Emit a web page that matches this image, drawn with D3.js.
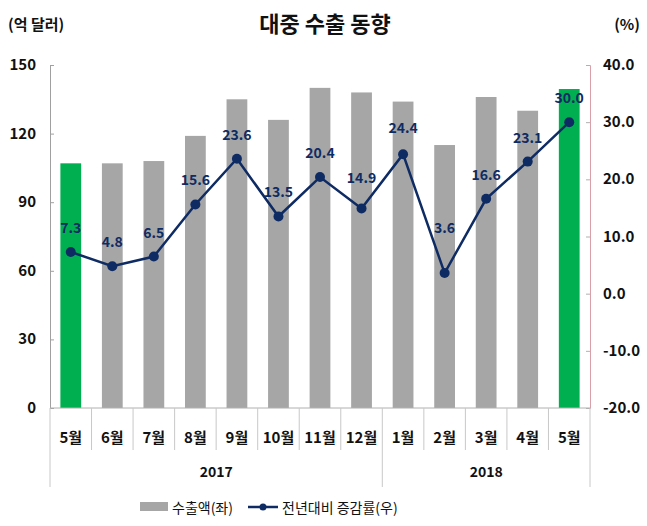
<!DOCTYPE html>
<html><head><meta charset="utf-8">
<script src="https://cdn.jsdelivr.net/npm/d3@7"></script>
<style>body{margin:0;background:#fff}svg{font-family:"Noto Sans CJK KR","Noto Sans",sans-serif}</style>
</head><body>
<svg id="c" width="647" height="526"></svg>
<script>
const months = ["5월","6월","7월","8월","9월","10월","11월","12월","1월","2월","3월","4월","5월"];
const years = [{label:"2017", from:0, to:8},{label:"2018", from:8, to:13}];
const exports = [107,107,108,119,135,126,140,138,134,115,136,130,139.5];
const growth = [7.3,4.8,6.5,15.6,23.6,13.5,20.4,14.9,24.4,3.6,16.6,23.1,30.0];
const highlight = [true,false,false,false,false,false,false,false,false,false,false,false,true];
const leftTicks = [0,30,60,90,120,150];
const rightTicks = [-20,-10,0,10,20,30,40];

const svg = d3.select("#c");
const L=50,R=590,T=65,B=408;
const x = d3.scaleBand().domain(d3.range(months.length)).range([L,R]).paddingInner(0.5).paddingOuter(0.25);
const xb = d3.scaleBand().domain(d3.range(months.length)).range([L,R]);
const yL = d3.scaleLinear().domain([0,150]).range([B,T]);
const yR = d3.scaleLinear().domain([-20,40]).range([B,T]);
const navy="#0e2b63";
// extra lift for a few data labels (layout only)
const labelLift = {7:6, 8:2, 9:21};

// bars
svg.selectAll("rect.bar").data(exports).enter().append("rect")
 .attr("x",(d,i)=>x(i)).attr("width",x.bandwidth())
 .attr("y",d=>yL(d)).attr("height",d=>B-yL(d))
 .attr("fill",(d,i)=>highlight[i]?"#00b050":"#a6a6a6");

// left axis
const gl = svg.append("g").attr("transform",`translate(${L},0)`)
 .call(d3.axisRight(yL).tickValues(leftTicks).tickSize(4).tickFormat(""));
gl.select(".domain").attr("stroke","#a0a0a0");
gl.selectAll(".tick line").attr("stroke","#a0a0a0");
svg.append("g").selectAll("text").data(leftTicks).enter().append("text")
 .attr("x",36).attr("y",d=>yL(d)+5).attr("text-anchor","end")
 .attr("font-size",15).attr("font-weight","bold").attr("fill","#111").text(d=>d);

// right axis
const gr = svg.append("g").attr("transform",`translate(${R},0)`)
 .call(d3.axisLeft(yR).tickValues(rightTicks).tickSize(4).tickFormat(""));
gr.select(".domain").attr("stroke","#d9a0a8");
gr.selectAll(".tick line").attr("stroke","#b0b0b0");
svg.append("g").selectAll("text").data(rightTicks).enter().append("text")
 .attr("x",603).attr("y",d=>yR(d)+5).attr("text-anchor","start")
 .attr("font-size",15).attr("font-weight","bold").attr("fill","#111").text(d=>d.toFixed(1));

// x axis
svg.append("line").attr("x1",L).attr("x2",R).attr("y1",B).attr("y2",B).attr("stroke","#b0b0b0");
const seps = d3.range(months.length+1);
svg.append("g").selectAll("line").data(seps).enter().append("line")
 .attr("x1",i=>i<months.length?xb(i):R).attr("x2",i=>i<months.length?xb(i):R)
 .attr("y1",B).attr("y2",i=>(i===0||i===8||i===13)?487:450)
 .attr("stroke","#c8c8c8");
svg.append("g").selectAll("text").data(months).enter().append("text")
 .attr("x",(d,i)=>xb(i)+xb.bandwidth()/2).attr("y",443).attr("text-anchor","middle")
 .attr("font-size",15).attr("font-weight","bold").attr("fill","#111").text(d=>d);
svg.append("g").selectAll("text").data(years).enter().append("text")
 .attr("x",d=>(xb(d.from)+(d.to<months.length?xb(d.to):R))/2).attr("y",477).attr("text-anchor","middle")
 .attr("font-size",14).attr("font-weight","bold").attr("fill","#111").text(d=>d.label);

// line
const cx = i=>x(i)+x.bandwidth()/2;
svg.append("path").datum(growth)
 .attr("d",d3.line().x((d,i)=>cx(i)).y(d=>yR(d)))
 .attr("fill","none").attr("stroke",navy).attr("stroke-width",2.5);
svg.append("g").selectAll("circle").data(growth).enter().append("circle")
 .attr("cx",(d,i)=>cx(i)).attr("cy",d=>yR(d)).attr("r",5).attr("fill",navy);
svg.append("g").selectAll("text").data(growth).enter().append("text")
 .attr("x",(d,i)=>cx(i)).attr("y",(d,i)=>yR(d)-19-(labelLift[i]||0)).attr("text-anchor","middle")
 .attr("font-size",14).attr("font-weight","bold").attr("fill",navy).text(d=>d.toFixed(1));

// titles
svg.append("text").attr("x",325).attr("y",32).attr("text-anchor","middle")
 .attr("font-size",22).attr("font-weight","bold").attr("fill","#111").text("대중 수출 동향");
svg.append("text").attr("x",8).attr("y",30).attr("font-size",15).attr("font-weight","bold").attr("fill","#111").text("(억 달러)");
svg.append("text").attr("x",640).attr("y",30).attr("text-anchor","end").attr("font-size",15).attr("font-weight","bold").attr("fill","#111").text("(%)");

// legend
svg.append("rect").attr("x",140).attr("y",502).attr("width",28).attr("height",9).attr("fill","#a6a6a6");
svg.append("text").attr("x",172).attr("y",513).attr("font-size",14).attr("fill","#111").text("수출액(좌)");
svg.append("line").attr("x1",248).attr("x2",278).attr("y1",507).attr("y2",507).attr("stroke",navy).attr("stroke-width",2.5);
svg.append("circle").attr("cx",263).attr("cy",507).attr("r",3.5).attr("fill",navy);
svg.append("text").attr("x",282).attr("y",513).attr("font-size",14).attr("fill","#111").text("전년대비 증감률(우)");
</script>
</body></html>
